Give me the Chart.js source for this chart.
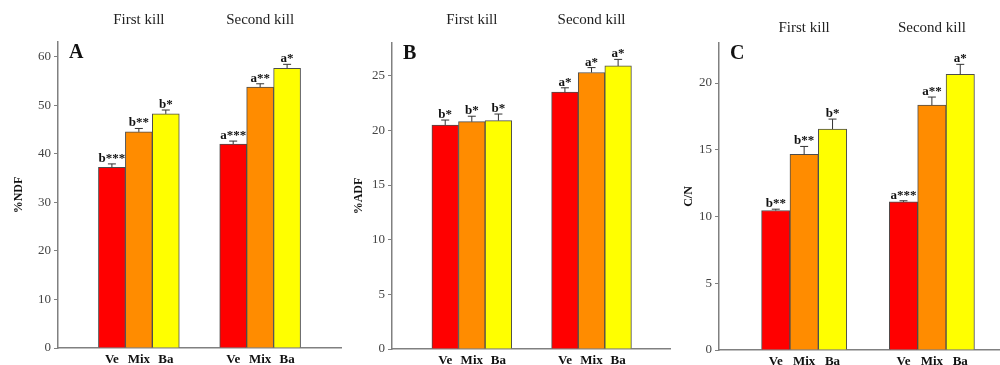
<!DOCTYPE html>
<html>
<head>
<meta charset="utf-8">
<script src="https://cdn.jsdelivr.net/npm/chart.js@4"></script>
<style>
body{margin:0;background:#fff;overflow:hidden;width:1000px;height:365px;position:relative;}
canvas{position:absolute;top:0;}
</style>
</head>
<body>
<canvas id="chartA"></canvas>
<canvas id="chartB"></canvas>
<canvas id="chartC"></canvas>
<script>
const groups = ['First kill', 'Second kill'];
const treatments = ['Ve', 'Mix', 'Ba'];

const ndfValues = [37.2, 44.5, 48.2, 42.0, 53.7, 57.6];
const ndfErrors = [0.7, 0.7, 0.8, 0.6, 0.7, 0.8];
const ndfMarks = ['b***', 'b**', 'b*', 'a***', 'a**', 'a*'];

const adfValues = [20.5, 20.8, 20.9, 23.5, 25.3, 25.9];
const adfErrors = [0.45, 0.5, 0.6, 0.4, 0.45, 0.6];
const adfMarks = ['b*', 'b*', 'b*', 'a*', 'a*', 'a*'];

const cnValues = [10.45, 14.65, 16.55, 11.1, 18.35, 20.65];
const cnErrors = [0.1, 0.6, 0.75, 0.08, 0.6, 0.75];
const cnMarks = ['b**', 'b**', 'b*', 'a***', 'a**', 'a*'];

const barColors = ['#ff0000', '#ff8c00', '#ffff00'];
const serif = '"Liberation Serif", "Times New Roman", serif';

// bar slots: 3 bars per group, 1.5 slot gap between groups
function barPositions(){
    let xs = [];
    groups.forEach((g, k) => {
        treatments.forEach((t, j) => { xs.push(2 + k * 4.5 + j); });
    });
    return xs;
}

function makeAnnotate(panel){
    return {
        id: 'annotate' + panel.letter,
        afterDatasetsDraw(chart){
            const c = chart.ctx;
            const yScale = chart.scales.y;
            const xScale = chart.scales.x;
            const meta = chart.getDatasetMeta(0);
            c.save();
            meta.data.forEach((bar, i) => {
                const top = yScale.getPixelForValue(panel.values[i] + panel.errors[i]);
                c.strokeStyle = '#333';
                c.lineWidth = 1;
                c.beginPath();
                c.moveTo(bar.x, bar.y);
                c.lineTo(bar.x, top);
                c.moveTo(bar.x - 4, top);
                c.lineTo(bar.x + 4, top);
                c.stroke();
                c.fillStyle = '#111';
                c.font = 'bold 13px ' + serif;
                c.textAlign = 'center';
                c.textBaseline = 'alphabetic';
                c.fillText(panel.marks[i], bar.x, top - 2);
            });
            c.font = 'bold 20px ' + serif;
            c.textAlign = 'left';
            c.fillText(panel.letter, chart.chartArea.left + 11, chart.chartArea.top + 16);
            c.font = '15px ' + serif;
            c.fillStyle = '#222';
            c.textAlign = 'center';
            c.textBaseline = 'middle';
            const xs = barPositions();
            groups.forEach((g, k) => {
                c.fillText(g, xScale.getPixelForValue(xs[k * 3 + 1]), panel.titleY);
            });
            c.restore();
        }
    };
}

function drawPanel(panel){
    const canvas = document.getElementById(panel.id);
    canvas.width = panel.width;
    canvas.height = 365;
    canvas.style.left = panel.left + 'px';
    const xs = barPositions();

    new Chart(
        canvas,
        {
            type: 'bar',
            data: {
                datasets: [
                    {
                        data: panel.values.map((v, i) => ({x: xs[i], y: v})),
                        backgroundColor: ctx => barColors[ctx.dataIndex % 3],
                        borderColor: '#4d4d4d',
                        borderWidth: 1,
                        categoryPercentage: 1,
                        barPercentage: 1
                    }
                ]
            },
            options: {
                responsive: false,
                animation: false,
                layout: {padding: {left: 0, right: panel.padRight, top: panel.top, bottom: 0}},
                plugins: {
                    legend: {display: false},
                    tooltip: {enabled: false}
                },
                scales: {
                    x: {
                        type: 'linear',
                        offset: false,
                        min: 0,
                        max: panel.xMax,
                        grid: {display: false, drawTicks: false, offset: false},
                        border: {display: true, color: '#808080', width: 1.5},
                        afterBuildTicks: s => { s.ticks = xs.map(v => ({value: v})); },
                        afterFit: s => { s.height = 365 - panel.bottom; },
                        ticks: {
                            padding: 4,
                            color: '#111',
                            font: {family: serif, size: 13, weight: 'bold'},
                            callback: (v, i) => treatments[i % 3]
                        }
                    },
                    y: {
                        min: 0,
                        max: panel.yMax,
                        afterFit: s => { s.width = panel.yWidth; },
                        grid: {display: true, drawOnChartArea: false, drawTicks: true, tickLength: 4, tickColor: '#808080'},
                        border: {display: true, color: '#808080', width: 1.5},
                        ticks: {
                            stepSize: panel.step,
                            includeBounds: false,
                            padding: 3,
                            color: '#444',
                            font: {family: serif, size: 13}
                        },
                        title: {
                            display: true,
                            text: panel.title,
                            color: '#111',
                            padding: {top: 12, bottom: 0},
                            font: {family: serif, size: 12, weight: 'bold'}
                        }
                    }
                }
            },
            plugins: [makeAnnotate(panel)]
        }
    );
}

drawPanel({id: 'chartA', letter: 'A', title: '%NDF', left: 0, width: 342, yWidth: 58, padRight: 1,
    top: 42, bottom: 348, xMax: 10.5, yMax: 63, step: 10, titleY: 20,
    values: ndfValues, errors: ndfErrors, marks: ndfMarks});
drawPanel({id: 'chartB', letter: 'B', title: '%ADF', left: 340, width: 332, yWidth: 52, padRight: 2,
    top: 43, bottom: 349, xMax: 10.45, yMax: 28, step: 5, titleY: 20,
    values: adfValues, errors: adfErrors, marks: adfMarks});
drawPanel({id: 'chartC', letter: 'C', title: 'C/N', left: 670, width: 330, yWidth: 49, padRight: 0,
    top: 43, bottom: 350, xMax: 9.9, yMax: 23, step: 5, titleY: 28,
    values: cnValues, errors: cnErrors, marks: cnMarks});
</script>
</body>
</html>
